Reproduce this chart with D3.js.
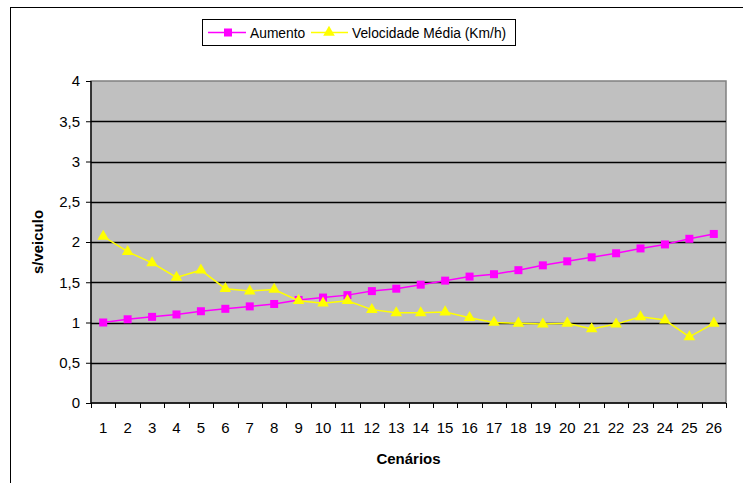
<!DOCTYPE html>
<html>
<head>
<meta charset="utf-8">
<script src="https://cdn.jsdelivr.net/npm/d3@7"></script>
<style>
  body { margin: 0; background: #fff; }
  text { font-family: "Liberation Sans", Arial, sans-serif; }
</style>
</head>
<body>
<svg id="chart" width="743" height="483"></svg>
<script>
// data
const cenarios = d3.range(1, 27);
const aumento = [1.0, 1.04, 1.07, 1.1, 1.14, 1.17, 1.2, 1.23, 1.28, 1.31, 1.34, 1.39, 1.42, 1.47,
  1.52, 1.57, 1.6, 1.65, 1.71, 1.76, 1.81, 1.86, 1.92, 1.97, 2.04, 2.1];
const velocidade = [2.07, 1.88, 1.74, 1.56, 1.65, 1.42, 1.39, 1.41, 1.27, 1.24, 1.27, 1.16, 1.12, 1.12,
  1.13, 1.06, 1.0, 0.99, 0.98, 0.99, 0.92, 0.98, 1.07, 1.03, 0.82, 0.99];
const yTicks = [0, 0.5, 1, 1.5, 2, 2.5, 3, 3.5, 4];

const svg = d3.select("#chart");

// outer chart frame (cropped on right and bottom)
svg.append("rect")
  .attr("x", 10.5).attr("y", 7.5)
  .attr("width", 760).attr("height", 500)
  .attr("fill", "#fff").attr("stroke", "#000").attr("stroke-width", 1);

const margin = { top: 81, left: 91 };
const plotW = 635, plotH = 322;

const g = svg.append("g")
  .attr("transform", `translate(${margin.left},${margin.top})`);

const x = d3.scaleBand().domain(cenarios).range([0, plotW]);
const y = d3.scaleLinear().domain([0, 4]).range([plotH, 0]);

// plot background
g.append("rect")
  .attr("width", plotW).attr("height", plotH)
  .attr("fill", "#c0c0c0").attr("stroke", "#808080").attr("stroke-width", 1.5);

// gridlines
g.selectAll(".grid")
  .data(yTicks.filter(d => d > 0 && d < 4))
  .enter().append("line")
  .attr("x1", 0).attr("x2", plotW)
  .attr("y1", d => Math.round(y(d)) + 0.5).attr("y2", d => Math.round(y(d)) + 0.5)
  .attr("stroke", "#000").attr("stroke-width", 1.3);

// y axis
const yAxis = g.append("g")
  .call(d3.axisLeft(y).tickValues(yTicks).tickSize(5).tickPadding(6)
    .tickFormat(d => String(d).replace(".", ",")));
yAxis.select(".domain").attr("stroke", "#000").attr("stroke-width", 1.3).attr("d", `M0,0V${plotH}`);
yAxis.selectAll("text").attr("font-size", 15).attr("fill", "#000");

// x axis: ticks between categories
const xAxis = g.append("g").attr("transform", `translate(0,${plotH})`);
xAxis.append("line").attr("x1", 0).attr("x2", plotW).attr("stroke", "#000").attr("stroke-width", 1.3);
xAxis.selectAll(".xt")
  .data(d3.range(0, 27))
  .enter().append("line")
  .attr("x1", i => Math.round(i * x.bandwidth()) + 0.5)
  .attr("x2", i => Math.round(i * x.bandwidth()) + 0.5)
  .attr("y1", 0).attr("y2", 5)
  .attr("stroke", "#000");
xAxis.selectAll(".xl")
  .data(cenarios)
  .enter().append("text")
  .attr("x", d => x(d) + x.bandwidth() / 2)
  .attr("y", 30)
  .attr("text-anchor", "middle")
  .attr("font-size", 15)
  .text(d => d);

// axis titles
svg.append("text")
  .attr("x", margin.left + plotW / 2).attr("y", 464)
  .attr("text-anchor", "middle").attr("font-size", 15).attr("font-weight", "bold")
  .text("Cenários");
svg.append("text")
  .attr("transform", `translate(43,${margin.top + plotH / 2}) rotate(-90)`)
  .attr("text-anchor", "middle").attr("font-size", 15).attr("font-weight", "bold")
  .text("s/veiculo");

// series
const cx = (d, i) => x(cenarios[i]) + x.bandwidth() / 2;
const line = d3.line().x(cx).y(d => y(d));
const tri = d3.symbol().type(d3.symbolTriangle).size(58);

g.append("path").datum(aumento)
  .attr("d", line).attr("fill", "none").attr("stroke", "#ff00ff").attr("stroke-width", 1.5);
g.selectAll(".sq").data(aumento).enter().append("rect")
  .attr("x", (d, i) => cx(d, i) - 4).attr("y", d => y(d) - 4)
  .attr("width", 8).attr("height", 8).attr("fill", "#ff00ff");

g.append("path").datum(velocidade)
  .attr("d", line).attr("fill", "none").attr("stroke", "#ffff00").attr("stroke-width", 1.5);
g.selectAll(".tri").data(velocidade).enter().append("path")
  .attr("d", tri)
  .attr("transform", (d, i) => `translate(${cx(d, i)},${y(d)})`)
  .attr("fill", "#ffff00");

// legend
const lg = svg.append("g");
lg.append("rect")
  .attr("x", 202.5).attr("y", 19.5).attr("width", 313).attr("height", 26)
  .attr("fill", "#fff").attr("stroke", "#000");
lg.append("line").attr("x1", 208).attr("x2", 246).attr("y1", 32.5).attr("y2", 32.5)
  .attr("stroke", "#ff00ff").attr("stroke-width", 1.5);
lg.append("rect").attr("x", 224).attr("y", 28.5).attr("width", 8).attr("height", 8).attr("fill", "#ff00ff");
lg.append("text").attr("x", 250).attr("y", 37.5).attr("font-size", 13.8).text("Aumento");
lg.append("line").attr("x1", 311).attr("x2", 348).attr("y1", 32.5).attr("y2", 32.5)
  .attr("stroke", "#ffff00").attr("stroke-width", 1.5);
lg.append("path").attr("d", tri).attr("transform", "translate(329,32.5)").attr("fill", "#ffff00");
lg.append("text").attr("x", 352).attr("y", 37.5).attr("font-size", 13.8).text("Velocidade Média (Km/h)");
</script>
</body>
</html>
